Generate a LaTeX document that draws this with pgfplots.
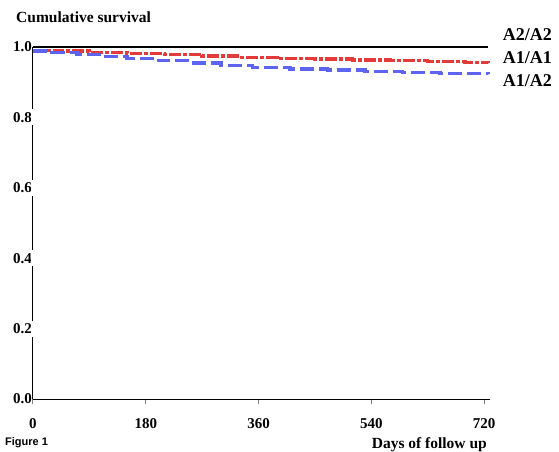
\documentclass[border=0pt]{standalone}
\usepackage{pgfplots}
\pgfplotsset{compat=1.18}
\usepackage{fontspec}
\setmainfont{Liberation Serif}
\newfontfamily\sansf{Liberation Sans}
\definecolor{kmred}{RGB}{228,58,58}
\definecolor{kmblue}{RGB}{92,100,240}
\begin{document}
\begin{tikzpicture}[x=1pt,y=1pt]
\path[use as bounding box] (-33,-52) rectangle (526,399);
\begin{axis}[
  at={(0,0)}, anchor=south west,
  scale only axis, width=457.3pt, height=352pt,
  xmin=0, xmax=730, ymin=0, ymax=1,
  axis x line=bottom, axis y line=left,
  axis line style={-, line width=1pt},
  xtick={0,180,360,540,720},
  ytick={0,0.2,0.4,0.6,0.8,1.0},
  /pgf/number format/assume math mode=true,
  yticklabel={\pgfmathprintnumber[fixed, fixed zerofill, precision=1]{\tick}\hspace{2.5pt}},
  yticklabel style={anchor=east, xshift=1.5pt, inner xsep=0pt, inner ysep=3pt},
  tick label style={font=\fontsize{15}{17}\selectfont\bfseries},
  xtick align=outside, major tick length=5pt,
  x tick style={line width=1pt},
  y tick style={draw=none},
  xticklabel style={yshift=-11pt},
  clip=false,
]
\addplot[black, line width=2.7pt] coordinates {(0,1.0) (727,1.0)};
\addplot[kmred, line width=3.5pt, const plot, dash pattern=on 12pt off 2pt on 4pt off 2pt] coordinates {
(0,0.99) (40,0.988) (90,0.985) (150,0.982) (210,0.978) (270,0.974) (330,0.970) (390,0.968) (450,0.966) (510,0.963) (570,0.961) (630,0.959) (690,0.956) (727,0.955)};
\addplot[kmblue, line width=3.5pt, const plot, dash pattern=on 14pt off 5pt] coordinates {
(0,0.988) (30,0.984) (70,0.979) (110,0.973) (150,0.967) (200,0.961) (250,0.954) (300,0.948) (350,0.942) (410,0.938) (470,0.934) (530,0.931) (590,0.928) (650,0.925) (727,0.923)};
\draw[white, line width=3pt] (axis cs:0,0.2) ++(0,-8pt) -- ++(0,16pt);
\draw[white, line width=3pt] (axis cs:0,0.4) ++(0,-8pt) -- ++(0,16pt);
\draw[white, line width=3pt] (axis cs:0,0.6) ++(0,-8pt) -- ++(0,16pt);
\draw[white, line width=3pt] (axis cs:0,0.8) ++(0,-8pt) -- ++(0,16pt);
\end{axis}
\node[anchor=base west, inner sep=0pt, font=\fontsize{15.5}{17}\selectfont\bfseries] at (-17,376.3) {Cumulative survival};
\node[anchor=base west, inner sep=0pt, font=\fontsize{11}{13}\selectfont\sansf\bfseries] at (-28,-46) {Figure 1};
\node[anchor=base east, inner sep=0pt, font=\fontsize{15.5}{17}\selectfont\bfseries] at (454,-49) {Days of follow up};
\node[anchor=base west, inner sep=0pt, font=\fontsize{18}{20}\selectfont\bfseries] at (469.7,358.3) {A2/A2};
\node[anchor=base west, inner sep=0pt, font=\fontsize{18}{20}\selectfont\bfseries] at (469.7,335.7) {A1/A1};
\node[anchor=base west, inner sep=0pt, font=\fontsize{18}{20}\selectfont\bfseries] at (469.7,313) {A1/A2};
\end{tikzpicture}
\end{document}
